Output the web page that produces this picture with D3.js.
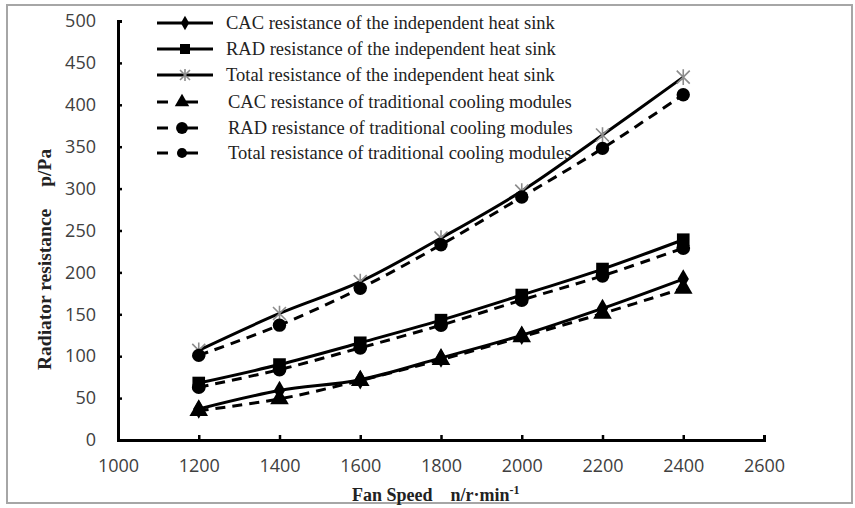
<!DOCTYPE html>
<html>
<head>
<meta charset="utf-8">
<script src="https://cdn.jsdelivr.net/npm/d3@7/dist/d3.min.js"></script>
<style>
  body { margin: 0; background: #fff; }
  svg { display: block; }
</style>
</head>
<body>
<svg id="vis" width="855" height="508"></svg>
<script>
// fan speed (n/r·min-1) and radiator resistance (p/Pa)
const speeds = [1200, 1400, 1600, 1800, 2000, 2200, 2400];
const cacIndep = [37, 59, 72, 98, 125, 157, 192];
const radIndep = [68, 90, 116, 143, 173, 204, 239];
const totalIndep = [107, 151, 189, 241, 297, 364, 433];
const cacTrad = [35, 49, 71, 96, 123, 151, 181];
const radTrad = [63, 84, 110, 137, 167, 196, 229];
const totalTrad = [101, 137, 181, 233, 290, 348, 412];

const xTicks = [1000, 1200, 1400, 1600, 1800, 2000, 2200, 2400, 2600];
const yTicks = [0, 50, 100, 150, 200, 250, 300, 350, 400, 450, 500];

const seriesNames = [
    "CAC resistance of the independent heat sink",
    "RAD resistance of the independent heat sink",
    "Total resistance of the independent heat sink",
    "CAC resistance of traditional cooling modules",
    "RAD resistance of traditional cooling modules",
    "Total resistance of traditional cooling modules"
];

const svg = d3.select('#vis');

// frame round the picture
svg.append("rect")
    .attr("x", 7).attr("y", 5)
    .attr("width", 845).attr("height", 498)
    .attr("fill", "none")
    .attr("stroke", "#a6a6a6")
    .attr("stroke-width", 2);

const x = d3.scaleLinear().domain([1000, 2600]).range([118, 764]);
const y = d3.scaleLinear().domain([0, 500]).range([440, 21]);

// axes
const xAxis = d3.axisBottom(x).tickValues(xTicks).tickFormat(d3.format("d"))
    .tickSize(-5).tickPadding(19);
const yAxis = d3.axisLeft(y).tickValues(yTicks).tickSize(-4).tickPadding(22);

const gx = svg.append("g").attr("transform", "translate(0," + y(0) + ")").call(xAxis);
const gy = svg.append("g").attr("transform", "translate(" + x(1000) + ",0)").call(yAxis);

[gx, gy].forEach(function (g) {
    g.select(".domain").attr("stroke", "#000").attr("stroke-width", 3);
    g.selectAll(".tick line").attr("stroke", "#000").attr("stroke-width", 2.5);
    g.selectAll(".tick text")
        .attr("fill", "#404040")
        .style("font-family", "'Open Sans', sans-serif")
        .style("font-size", "18px");
});

// marker shapes
function star(g, s, color) {
    const p = d3.path();
    p.moveTo(-s, -s); p.lineTo(s, s);
    p.moveTo(-s, s); p.lineTo(s, -s);
    p.moveTo(0, -s * 1.2); p.lineTo(0, s * 1.2);
    g.append("path").attr("d", p.toString())
        .attr("stroke", color).attr("stroke-width", 1.6).attr("fill", "none");
}

function marker(g, kind, size) {
    if (kind === "star") {
        star(g, size, "#8c8c8c");
        return;
    }
    const sym = {
        diamond: d3.symbolDiamond,
        square: d3.symbolSquare,
        triangle: d3.symbolTriangle,
        circle: d3.symbolCircle
    }[kind];
    g.append("path")
        .attr("d", d3.symbol().type(sym).size(size)())
        .attr("fill", "#000");
}

const series = [
    { name: seriesNames[0], values: cacIndep, dash: null, kind: "diamond", size: 110, lsize: 60 },
    { name: seriesNames[1], values: radIndep, dash: null, kind: "square", size: 160, lsize: 100 },
    { name: seriesNames[2], values: totalIndep, dash: null, kind: "star", size: 6.5, lsize: 5 },
    { name: seriesNames[3], values: cacTrad, dash: "10,7", kind: "triangle", size: 150, lsize: 90 },
    { name: seriesNames[4], values: radTrad, dash: "10,7", kind: "circle", size: 150, lsize: 110 },
    { name: seriesNames[5], values: totalTrad, dash: "10,7", kind: "circle", size: 140, lsize: 80 }
];

const line = d3.line()
    .x(function (d) { return x(d[0]); })
    .y(function (d) { return y(d[1]); })
    .curve(d3.curveCatmullRom);

series.forEach(function (s) {
    const pts = speeds.map(function (v, i) { return [v, s.values[i]]; });
    svg.append("path")
        .datum(pts)
        .attr("d", line)
        .attr("fill", "none")
        .attr("stroke", "#000")
        .attr("stroke-width", 3)
        .attr("stroke-dasharray", s.dash);

    svg.append("g").selectAll("g")
        .data(pts)
        .enter().append("g")
        .attr("transform", function (d) { return "translate(" + x(d[0]) + "," + y(d[1]) + ")"; })
        .each(function () { marker(d3.select(this), s.kind, s.size); });
});

// legend
const legendY = [23, 49, 75, 102, 128, 153];
const legend = svg.append("g");
series.forEach(function (s, i) {
    const row = legend.append("g").attr("transform", "translate(0," + legendY[i] + ")");
    if (s.dash) {
        row.append("line").attr("x1", 157).attr("x2", 168).attr("y1", 0).attr("y2", 0)
            .attr("stroke", "#000").attr("stroke-width", 3);
        row.append("line").attr("x1", 186).attr("x2", 198).attr("y1", 0).attr("y2", 0)
            .attr("stroke", "#000").attr("stroke-width", 3);
    } else {
        row.append("line").attr("x1", 157).attr("x2", 213).attr("y1", 0).attr("y2", 0)
            .attr("stroke", "#000").attr("stroke-width", 3);
    }
    const mg = row.append("g").attr("transform", "translate(" + (s.dash ? 182 : 185) + ",0)");
    marker(mg, s.kind, s.lsize);
    row.append("text")
        .attr("x", s.dash ? 228 : 226)
        .attr("y", 6)
        .attr("fill", "#222")
        .style("font-family", "'Liberation Serif', 'Times New Roman', serif")
        .style("font-size", "18.5px")
        .text(s.name);
});

// axis titles
const xTitle = svg.append("text")
    .attr("x", 352).attr("y", 501)
    .attr("fill", "#222")
    .style("font-family", "'Liberation Serif', 'Times New Roman', serif")
    .style("font-weight", "bold")
    .style("font-size", "18px");
xTitle.append("tspan").text("Fan Speed");
xTitle.append("tspan").attr("dx", 18).text("n/r·min");
xTitle.append("tspan").attr("dy", -7).style("font-size", "12px").text("-1");

const yTitle = svg.append("text")
    .attr("transform", "translate(51,370) rotate(-90)")
    .attr("fill", "#222")
    .style("font-family", "'Liberation Serif', 'Times New Roman', serif")
    .style("font-weight", "bold")
    .style("font-size", "19.5px");
yTitle.append("tspan").text("Radiator resistance");
yTitle.append("tspan").attr("dx", 22).text("p/Pa");
</script>
</body>
</html>
